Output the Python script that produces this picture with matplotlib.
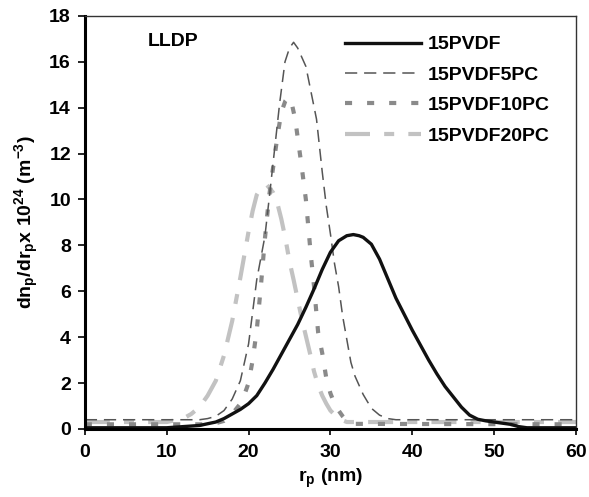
import numpy as np
import matplotlib.pyplot as plt

plt.rcParams['font.family'] = ['Liberation Sans', 'DejaVu Sans']
plt.rcParams['font.weight'] = 'bold'
plt.rcParams['mathtext.fontset'] = 'custom'
plt.rcParams['mathtext.rm'] = 'Liberation Sans:bold'
plt.rcParams['mathtext.bf'] = 'Liberation Sans:bold'
plt.rcParams['mathtext.default'] = 'bf'

# Data
x_pvdf = [0, 5, 10, 12, 14, 16, 17, 18, 19, 20, 21, 22, 23, 24, 25, 26, 27, 28, 29, 30, 31, 32, 32.8, 33.5,
          34, 35, 36, 37, 38, 39, 40, 41, 42, 43, 44, 45, 46, 47, 48, 49, 50, 52, 53, 54, 60]
y_pvdf = [0.05, 0.05, 0.05, 0.1, 0.15, 0.3, 0.45, 0.65, 0.85, 1.1, 1.45, 2.0, 2.6, 3.25, 3.9, 4.55, 5.3, 6.1, 6.95,
          7.7, 8.2, 8.42, 8.47, 8.42, 8.35, 8.05, 7.4, 6.55, 5.7, 5.0, 4.3, 3.65, 3.0, 2.4, 1.85, 1.4, 0.95, 0.6,
          0.42, 0.35, 0.3, 0.2, 0.1, 0.05, 0.05]

x_5pc = [0, 14, 15, 16, 17, 18, 19, 20, 21, 22, 22.6, 23, 23.8, 24.45, 25, 25.5, 26, 27, 28.3, 29, 29.5, 30, 30.5,
         31, 31.5, 32, 32.5, 33, 34, 35, 36, 37, 38, 60]
y_5pc = [0.4, 0.4, 0.45, 0.55, 0.8, 1.3, 2.1, 3.7, 6.5, 8.4, 10.3, 11.6, 14.2, 16.0, 16.6, 16.85, 16.6, 15.8, 13.5,
         11.2, 9.7, 8.5, 7.2, 6.2, 4.9, 3.9, 2.9, 2.3, 1.5, 0.9, 0.6, 0.45, 0.4, 0.4]

x_10pc = [0, 15, 16, 17, 18, 19, 19.4, 20, 20.5, 21, 21.5, 22, 22.5, 23, 23.5, 24, 24.5, 24.85, 25.2, 25.7, 26,
          26.5, 27, 27.3, 27.6, 28, 28.5, 29, 29.5, 30, 30.5, 31, 31.5, 32, 33, 60]
y_10pc = [0.2, 0.2, 0.25, 0.35, 0.65, 1.1, 1.4, 2.0, 3.0, 4.3, 6.2, 8.3, 10.1, 11.4, 12.7, 13.8, 14.3, 14.45, 14.3,
          13.5, 12.7, 11.4, 10.0, 8.8, 7.6, 6.2, 4.2, 3.3, 2.2, 1.55, 1.1, 0.8, 0.55, 0.35, 0.22, 0.2]

x_20pc = [0, 10, 12, 13, 14, 15, 16, 17, 18, 19, 20, 20.5, 21, 21.5, 22.2, 23, 23.4, 24, 24.5, 25, 25.5, 26, 26.5,
          27, 27.5, 28, 28.5, 29, 29.5, 30, 31, 32, 33, 60]
y_20pc = [0.3, 0.3, 0.45, 0.65, 0.95, 1.45, 2.1, 3.2, 4.7, 6.6, 8.6, 9.5, 10.2, 10.5, 10.65, 10.3, 10.0, 9.15, 8.3,
          7.3, 6.5, 5.65, 4.8, 4.05, 3.3, 2.5, 1.9, 1.45, 1.1, 0.8, 0.45, 0.3, 0.3, 0.3]

fig = plt.figure(figsize=(5.89, 4.97), dpi=100)
ax = fig.add_axes([0.144, 0.137, 0.834, 0.831])

ax.plot(x_20pc, y_20pc, color='#c2c2c2', lw=3, dashes=(6, 3.4, 2.4, 3.4), label='15PVDF20PC')
ax.plot(x_10pc, y_10pc, color='#8a8a8a', lw=3, dashes=(1.7, 3.6), label='15PVDF10PC')
ax.plot(x_5pc, y_5pc, color='#555555', lw=1.1, dashes=(8, 4.5), label='15PVDF5PC')
ax.plot(x_pvdf, y_pvdf, color='#111111', lw=2.4, label='15PVDF')

ax.set_xlim(0, 60)
ax.set_ylim(0, 18)
ax.set_xticks(np.arange(0, 61, 10))
ax.set_yticks(np.arange(0, 19, 2))
ax.tick_params(axis='y', direction='out', length=5, width=1.2, pad=5, labelsize=14)
ax.tick_params(axis='x', direction='out', length=4, width=1.2, pad=7, labelsize=14)
for s in ['left', 'bottom']:
    ax.spines[s].set_linewidth(2.2)
for s in ['top', 'right']:
    ax.spines[s].set_linewidth(1)
    ax.spines[s].set_color('#333333')

ax.set_xlabel('r$_p$ (nm)', fontsize=14, fontweight='bold', labelpad=4)
ax.set_ylabel('dn$_p$/dr$_p$x 10$^{24}$ (m$^{-3}$)', fontsize=14, fontweight='bold', labelpad=6)

ax.text(7.7, 16.9, 'LLDP', fontsize=14, fontweight='bold', va='center')

h, l = ax.get_legend_handles_labels()
ax.legend(h[::-1], l[::-1], loc='upper left', frameon=False, fontsize=14,
          handlelength=3.9, handletextpad=0.35, labelspacing=0.66,
          borderpad=0, borderaxespad=0, bbox_to_anchor=(0.53, 0.952))

fig.savefig('out.png', dpi=100)
